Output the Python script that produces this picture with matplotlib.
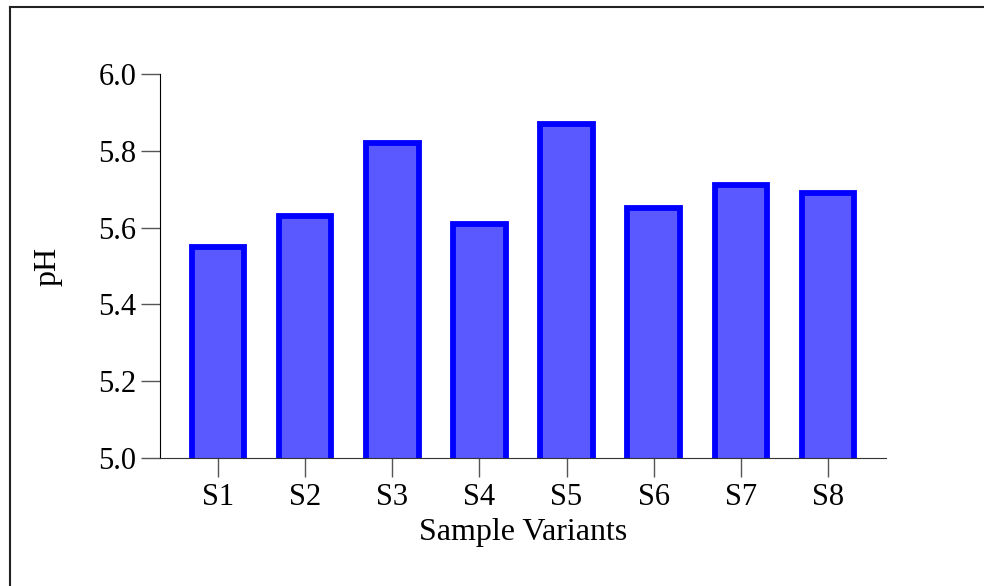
import matplotlib
matplotlib.use("Agg")
import matplotlib.pyplot as plt
from matplotlib.lines import Line2D

# pH of each sample variant
samples = ["S1", "S2", "S3", "S4", "S5", "S6", "S7", "S8"]
ph_values = [5.55, 5.63, 5.82, 5.61, 5.87, 5.65, 5.71, 5.69]
y_ticks = [5.0, 5.2, 5.4, 5.6, 5.8, 6.0]

plt.rcParams['font.family'] = ['Liberation Serif', 'DejaVu Serif']

fig = plt.figure(figsize=(9.84, 5.86), dpi=100)
ax = fig.add_axes([0.1626, 0.2184, 0.7378, 0.6553])

x = range(len(samples))
ax.bar(x, ph_values, width=0.6, color=(0, 0, 1, 0.65), edgecolor='blue', linewidth=4.2)

ax.set_xlim(-0.67, 7.67)
ax.set_ylim(5.0, 6.0)
ax.set_xticks(list(x))
ax.set_xticklabels(samples)
ax.set_yticks(y_ticks)
ax.set_yticklabels([f"{v:.1f}" for v in y_ticks])

ax.tick_params(axis='both', direction='out', length=14, width=1, color='#555555', labelsize=22)
ax.tick_params(axis='y', pad=3)
ax.tick_params(axis='x', pad=4)
ax.spines['top'].set_visible(False)
ax.spines['right'].set_visible(False)
ax.spines['left'].set_color('black')
ax.spines['bottom'].set_color('#333333')

ax.set_xlabel('Sample Variants', fontsize=23, labelpad=4)
ax.set_ylabel('pH', fontsize=23, labelpad=26)

# thin frame around figure (top and left edges visible)
fig.add_artist(Line2D([10 / 984, 10 / 984], [0, 1 - 7 / 586], transform=fig.transFigure, color='#222222', lw=1.5))
fig.add_artist(Line2D([10 / 984, 1], [1 - 7 / 586, 1 - 7 / 586], transform=fig.transFigure, color='#222222', lw=1.5))

fig.savefig('out.png', dpi=100)
